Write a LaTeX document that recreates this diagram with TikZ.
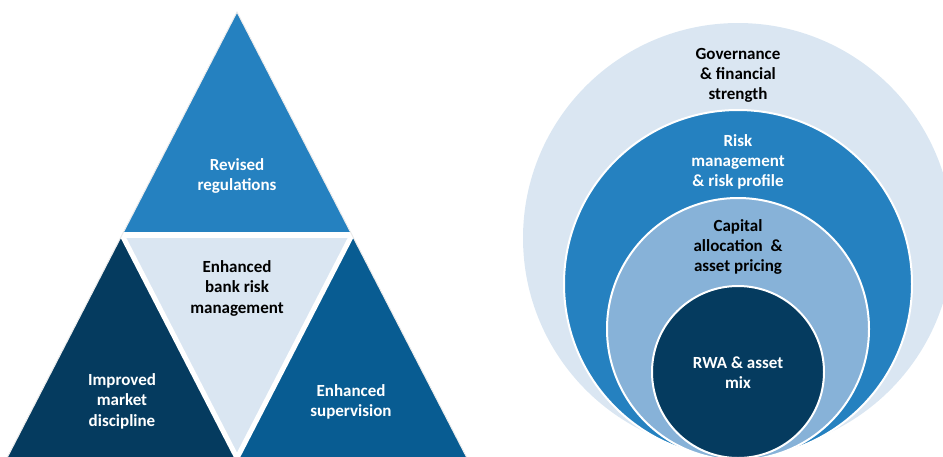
\documentclass[tikz,border=0pt]{standalone}
\usepackage{fontspec}
\setmainfont{Carlito}
\definecolor{paleblue}{RGB}{218,230,242}
\definecolor{midblue}{RGB}{37,129,192}
\definecolor{skyblue}{RGB}{135,178,216}
\definecolor{navy}{RGB}{5,59,95}
\definecolor{deepblue}{RGB}{8,92,146}
\tikzset{
  tritext/.style={align=center,font=\bfseries\fontsize{17}{20.5}\selectfont},
  ringtext/.style={align=center,font=\bfseries\fontsize{17}{20}\selectfont},
  ring/.style={draw=white,line width=2pt}
}
\begin{document}
\begin{tikzpicture}[x=1pt,y=-1pt]
\useasboundingbox (0,0) rectangle (943,456);
\coordinate (A) at (237,12);
\coordinate (L) at (7,458);
\coordinate (R) at (467,458);
\coordinate (AL) at (122,235);
\coordinate (AR) at (352,235);
\coordinate (B) at (237,458);

\path[fill=midblue] (A) -- (AL) -- (AR) -- cycle;
\path[fill=paleblue] (AL) -- (AR) -- (B) -- cycle;
\path[fill=navy] (AL) -- (L) -- (B) -- cycle;
\path[fill=deepblue] (AR) -- (B) -- (R) -- cycle;
\path[draw=white,line width=6pt] (AL) -- (AR);
\path[draw=white,line width=5pt] (AL) -- (B) -- (AR);
\path[draw=white!85!gray,line width=1pt] (L) -- (A) -- (R);

\node[tritext,text=white] (revised) at (237,176) {Revised\\regulations};
\node[tritext,text=black] (bankrisk) at (237,288) {Enhanced\\bank risk\\management};
\node[tritext,text=white] (market) at (122,401) {Improved\\market\\discipline};
\node[tritext,text=white] (supervision) at (351,402) {Enhanced\\supervision};

\path[fill=paleblue] (738,238) circle (215);
\path[ring,fill=midblue] (738,284) circle (174);
\path[ring,fill=skyblue] (738,329) circle (131);
\path[ring,fill=navy] (738,372) circle (86);

\node[ringtext,text=black] (governance) at (738,75) {Governance\\\& financial\\strength};
\node[ringtext,text=white] (riskmgmt) at (738,162) {Risk\\management\\\& risk profile};
\node[ringtext,text=black] (capital) at (738,247) {Capital\\allocation\ \ \&\\asset pricing};
\node[ringtext,text=white] (rwa) at (738,373) {RWA \& asset\\mix};
\end{tikzpicture}
\end{document}
